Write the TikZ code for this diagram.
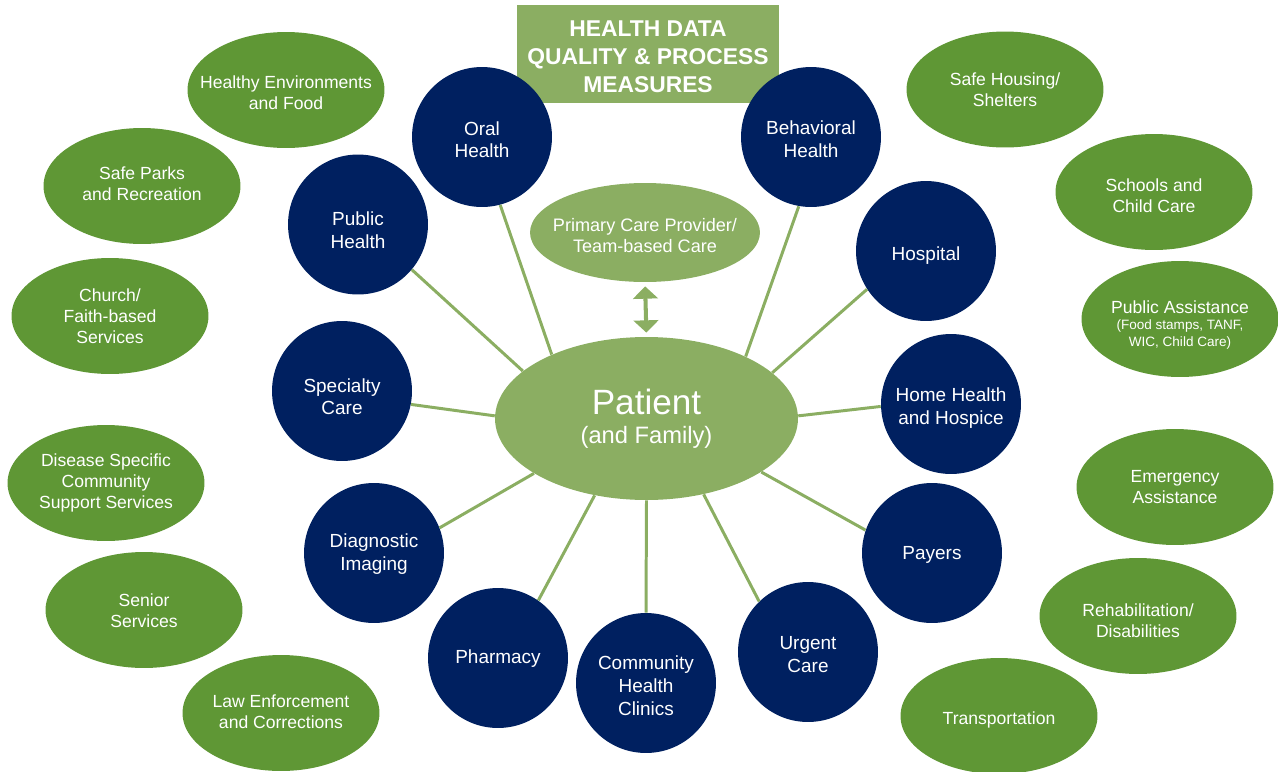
\documentclass[tikz,border=0pt]{standalone}
\usepackage{fontspec}
\setmainfont{Liberation Sans}
\usetikzlibrary{shapes.geometric,arrows.meta}
\definecolor{hdnavy}{HTML}{002060}
\definecolor{hddark}{HTML}{5F9735}
\definecolor{hdlight}{HTML}{8BAE62}
\newcommand{\ctr}[2][0pt]{\raisebox{-#1}[\height][\depth]{\makebox[0pt][c]{\begin{tabular}{@{}c@{}}#2\end{tabular}}}}
\begin{document}
\begin{tikzpicture}[x=0.02cm,y=-0.02cm,
  svc/.style={circle,fill=hdnavy,text=white,inner sep=0pt,minimum size=2.8cm,font=\fontsize{10.8}{13}\selectfont},
  comm/.style={ellipse,fill=hddark,text=white,inner sep=0pt,minimum width=3.94cm,minimum height=2.32cm,font=\fontsize{10}{12}\selectfont},
  link/.style={draw=hdlight,line width=1.7pt}]
\clip (0,0) rectangle (1278,771);

% title
\node[rectangle,fill=hdlight,text=white,inner sep=0pt,minimum width=5.24cm,minimum height=1.96cm,font=\bfseries\fontsize{13}{16}\selectfont] (title) at (648,54) {\ctr[2.8pt]{HEALTH DATA\\QUALITY \& PROCESS\\MEASURES}};

% centre
\node[ellipse,fill=hdlight,text=white,inner sep=0pt,minimum width=6.06cm,minimum height=3.26cm,font=\fontsize{13.5}{15}\selectfont] (pat) at (646.5,418.5) {\ctr[0.85pt]{\fontsize{20}{24}\selectfont Patient\\[1.7pt](and Family)}};
\node[ellipse,fill=hdlight,text=white,inner sep=0pt,minimum width=4.6cm,minimum height=1.98cm,font=\fontsize{10.3}{12}\selectfont] (pcp) at (645,232.5) {\ctr[2.8pt]{Primary Care Provider/\\Team-based Care}};

% services
\node[svc] (oral)  at (482,137)   {\ctr[2.8pt]{Oral\\Health}};
\node[svc] (beh)   at (811,137)   {\ctr[2.6pt]{Behavioral\\Health}};
\node[svc] (pub)   at (358,224.5) {\ctr[4.5pt]{Public\\Health}};
\node[svc] (hosp)  at (926,251)   {\ctr[2.8pt]{Hospital}};
\node[svc] (spec)  at (342,391)   {\ctr[4.5pt]{Specialty\\Care}};
\node[svc] (home)  at (951,404)   {\ctr[2.6pt]{Home Health\\and Hospice}};
\node[svc] (diag)  at (374,553)   {\ctr[0.6pt]{Diagnostic\\Imaging}};
\node[svc] (pay)   at (932,553)   {\ctr[1.1pt]{Payers}};
\node[svc] (pharm) at (498,658)   {\ctr[0.6pt]{Pharmacy}};
\node[svc] (chc)   at (646,683)   {\ctr[2.8pt]{Community\\Health\\Clinics}};
\node[svc] (urg)   at (808,652)   {\ctr[2.3pt]{Urgent\\Care}};

% community
\node[comm] (he) at (286,90)    {\ctr[2.6pt]{Healthy Environments\\and Food}};
\node[comm] (sp) at (142,186)   {\ctr{Safe Parks\\and Recreation}};
\node[comm] (ch) at (110,316)   {\ctr[1.1pt]{Church/\\Faith-based\\Services}};
\node[comm] (ds) at (106,483)   {\ctr[0.3pt]{Disease Specific\\Community\\Support Services}};
\node[comm] (ss) at (144,610)   {\ctr[1.7pt]{Senior\\Services}};
\node[comm] (le) at (281,713)   {\ctr[0.6pt]{Law Enforcement\\and Corrections}};
\node[comm] (sh) at (1005,89.5) {\ctr[1.1pt]{Safe Housing/\\Shelters}};
\node[comm] (sc) at (1154,192)  {\ctr[3.4pt]{Schools and\\Child Care}};
\node[comm,font=\fontsize{7.7}{9.6}\selectfont] (pa) at (1180,319) {\ctr[4pt]{\fontsize{10}{9.6}\selectfont Public Assistance\\(Food stamps, TANF,\\WIC, Child Care)}};
\node[comm] (ea) at (1175,487)  {\ctr[0.85pt]{Emergency\\Assistance}};
\node[comm] (rd) at (1138,616)  {\ctr[4pt]{Rehabilitation/\\Disabilities}};
\node[comm] (tr) at (999,716)   {\ctr[2.3pt]{Transportation}};

% connectors
\draw[link] (oral.-75)  -- (pat.146);
\draw[link] (beh.-100)  -- (pat.32);
\draw[link] (pub.-40)   -- (pat.159);
\draw[link] (hosp.-147) -- (pat.20);
\draw[link] (spec.-11)  -- (pat.179);
\draw[link] (home.182)  -- (pat.1);
\draw[link] (diag.21)   -- (pat.-154);
\draw[link] (pay.161)   -- (pat.-25);
\draw[link] (pharm.55)  -- (pat.-124);
\draw[link] (chc.90)    -- (pat.-90);
\draw[link] (urg.134)   -- (pat.-53);

% double arrow
\draw[draw=hdlight,line width=2.3pt,{Triangle[width=14pt,length=7pt]}-{Triangle[width=14pt,length=7pt]},shorten <=2.3pt,shorten >=2.3pt] (pcp.south) -- (pat.north);
\end{tikzpicture}
\end{document}
